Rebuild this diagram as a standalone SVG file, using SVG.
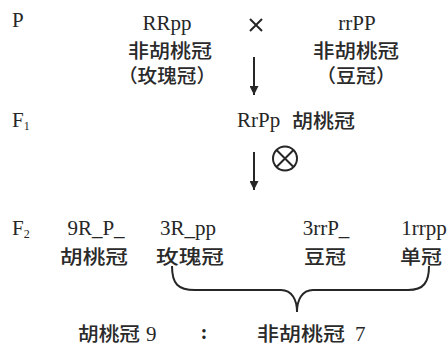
<svg xmlns="http://www.w3.org/2000/svg" width="447" height="349" viewBox="0 0 447 349">
  <style>
    .lat { font-family: "Liberation Serif", "Times New Roman", serif; font-size: 21px; fill: #262626; }
    .sub { font-family: "Liberation Serif", "Times New Roman", serif; font-size: 12px; fill: #262626; }
    .cjk { font-family: "Noto Sans CJK SC", "Noto Sans CJK TC", sans-serif; font-size: 19px; font-weight: 500; fill: #2a2a2a; }
    .mid { text-anchor: middle; }
    .line { stroke: #262626; stroke-width: 2; fill: none; }
  </style>
  <defs>
    <marker id="head" viewBox="0 0 10 10" refX="10" refY="5" markerWidth="9" markerHeight="9" markerUnits="userSpaceOnUse" orient="auto">
      <path d="M0,0 L10,5 L0,10 Z" fill="#262626"/>
    </marker>
  </defs>
  <rect width="447" height="349" fill="#ffffff"/>

  <!-- generation labels -->
  <g id="gen-labels">
    <text class="lat" x="12" y="27">P</text>
    <text class="lat" x="12" y="127">F<tspan class="sub" dy="3">1</tspan></text>
    <text class="lat" x="12" y="235">F<tspan class="sub" dy="3">2</tspan></text>
  </g>

  <!-- parents -->
  <g id="parent-rose">
    <text class="lat mid" x="167" y="30">RRpp</text>
    <text class="cjk mid" x="170" y="58" textLength="84" lengthAdjust="spacingAndGlyphs">非胡桃冠</text>
    <text class="cjk mid" x="167" y="83" textLength="98" lengthAdjust="spacingAndGlyphs">（玫瑰冠）</text>
  </g>
  <g id="cross">
    <path class="line" stroke-width="1.7" d="M250,19 L262,31 M262,19 L250,31"/>
  </g>
  <g id="parent-pea">
    <text class="lat mid" x="357" y="30">rrPP</text>
    <text class="cjk mid" x="356" y="58" textLength="86" lengthAdjust="spacingAndGlyphs">非胡桃冠</text>
    <text class="cjk mid" x="356" y="83" textLength="80" lengthAdjust="spacingAndGlyphs">（豆冠）</text>
  </g>

  <!-- F1 -->
  <g id="f1">
    <text class="lat" x="237" y="127">RrPp</text>
    <text class="cjk" x="292" y="128" textLength="63" lengthAdjust="spacingAndGlyphs">胡桃冠</text>
  </g>
  <g id="selfing">
    <circle cx="285" cy="158.5" r="12" class="line"/>
    <path class="line" d="M276.5,150 L293.5,167 M293.5,150 L276.5,167"/>
  </g>

  <!-- F2 classes -->
  <g id="f2-walnut">
    <text class="lat mid" x="96" y="235">9R_P_</text>
    <text class="cjk mid" x="94" y="264" textLength="68" lengthAdjust="spacingAndGlyphs">胡桃冠</text>
  </g>
  <g id="f2-rose">
    <text class="lat mid" x="188" y="235">3R_pp</text>
    <text class="cjk mid" x="190" y="264" textLength="68" lengthAdjust="spacingAndGlyphs">玫瑰冠</text>
  </g>
  <g id="f2-pea">
    <text class="lat mid" x="326" y="235">3rrP_</text>
    <text class="cjk mid" x="325" y="264" textLength="42" lengthAdjust="spacingAndGlyphs">豆冠</text>
  </g>
  <g id="f2-single">
    <text class="lat mid" x="424" y="235">1rrpp</text>
    <text class="cjk mid" x="421" y="264" textLength="42" lengthAdjust="spacingAndGlyphs">单冠</text>
  </g>

  <!-- ratio -->
  <g id="ratio">
    <text class="cjk" x="78" y="341" textLength="62" lengthAdjust="spacingAndGlyphs">胡桃冠</text>
    <text class="lat" x="146" y="341">9</text>
    <text class="lat mid" x="204" y="339" font-weight="bold">:</text>
    <text class="cjk" x="257" y="341" textLength="88" lengthAdjust="spacingAndGlyphs">非胡桃冠</text>
    <text class="lat" x="355" y="341">7</text>
  </g>

  <!-- connectors -->
  <g id="connectors">
    <line class="line" x1="254" y1="57" x2="254" y2="95" marker-end="url(#head)"/>
    <line class="line" x1="254" y1="152" x2="254" y2="190" marker-end="url(#head)"/>
    <path class="line" d="M172,266 C172,284 178,290 195,290 L281,290 C292,290 297,300 297,312 C297,300 302,290 313,290 L408,290 C424,290 429,282 429,266"/>
  </g>
</svg>
